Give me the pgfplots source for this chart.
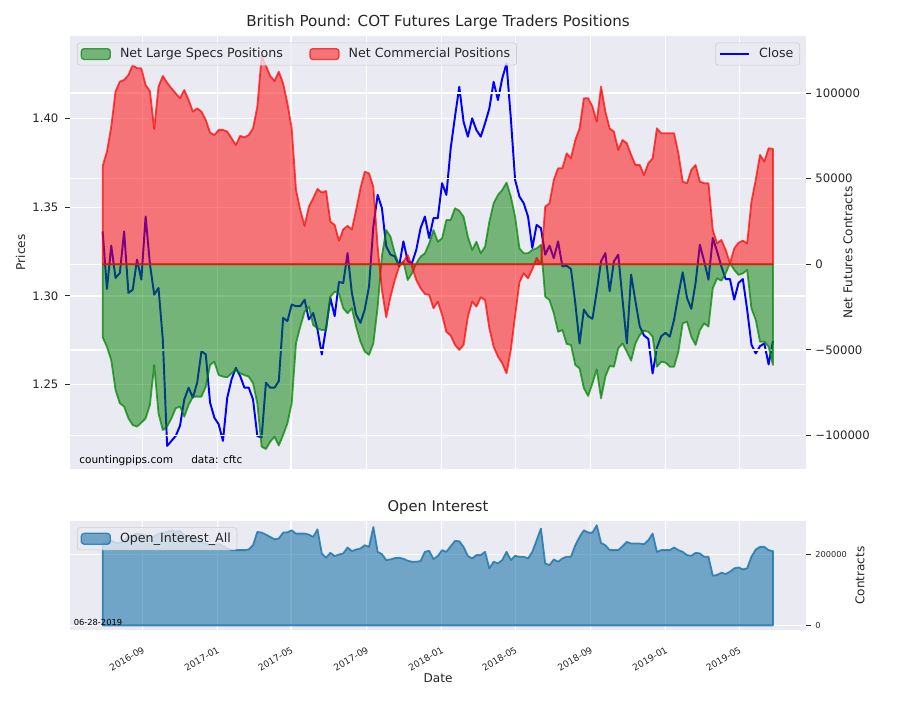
\documentclass[border=0pt]{standalone}
\usepackage{pgfplots}
\pgfplotsset{compat=1.18}
\usepackage{pgfplotstable}
\usepackage{fontspec}
\setmainfont{DejaVu Sans}
\definecolor{bg}{HTML}{EAEAF2}
\definecolor{txt}{HTML}{262626}
\definecolor{mgreen}{RGB}{0,128,0}
\definecolor{mred}{RGB}{255,0,0}
\definecolor{mblue}{RGB}{0,0,255}
\definecolor{oiblue}{RGB}{33,120,172}
\definecolor{legedge}{HTML}{CCCCCC}

\pgfplotstableread{
w close spec comm oi
0 1.3363 -42600 57400 229600
1 1.3039 -48200 65800 234000
2 1.3283 -56000 80400 239000
3 1.3101 -73400 100900 231600
4 1.3129 -81200 106700 231600
5 1.3363 -83100 107700 239000
6 1.3017 -90000 110600 248000
7 1.3035 -93900 116400 252900
8 1.3204 -94800 114500 257600
9 1.3092 -92500 114500 255700
10 1.3447 -90000 104700 252900
11 1.3180 -82200 101200 248000
12 1.3007 -58800 79000 250000
13 1.3045 -87100 103800 257600
14 1.2755 -96800 110000 259500
15 1.2155 -94800 106100 262200
16 1.2183 -90000 102800 267000
17 1.2211 -84100 99900 262200
18 1.2268 -83100 97000 265000
19 1.2417 -89000 101800 252900
20 1.2483 -82200 96000 248300
21 1.2427 -77300 89200 248300
22 1.2511 -77300 91100 240900
23 1.2689 -77300 89200 234000
24 1.2670 -71500 84300 229600
25 1.2399 -58800 76900 225000
26 1.2314 -56900 75500 225000
27 1.2277 -64700 78500 229600
28 1.2183 -65600 78500 222000
29 1.2427 -66000 77500 215800
30 1.2530 -63700 73600 211200
31 1.2595 -61700 69700 211200
32 1.2549 -63700 75000 211200
33 1.2483 -64700 74200 211200
34 1.2483 -65600 75500 213000
35 1.2417 -69500 79400 225000
36 1.2211 -81200 92100 262200
37 1.2202 -106500 121300 260400
38 1.2511 -107900 116000 254800
39 1.2483 -103600 110000 248300
40 1.2483 -100700 107000 241800
41 1.2520 -105900 112500 243700
42 1.2876 -99700 105700 260400
43 1.2858 -92900 94000 261300
44 1.2951 -81200 79400 266900
45 1.2942 -46200 43400 257600
46 1.2942 -36400 31700 257600
47 1.2979 -27700 22400 257600
48 1.2867 -24700 33700 254800
49 1.2904 -35500 38600 248300
50 1.2811 -37400 44000 269600
51 1.2670 -38400 41900 201900
52 1.2820 -38400 42800 189800
53 1.2989 -18900 24900 203800
54 1.2886 -16000 23000 194500
55 1.3078 -17000 13800 199100
56 1.3073 -25700 20400 201900
57 1.3241 -28600 22400 218600
58 1.3017 -25700 20400 208400
59 1.2895 -36400 31700 213000
60 1.2848 -45200 44400 215800
61 1.2923 -51000 54100 225000
62 1.3054 -52900 53100 220400
63 1.3391 -46200 45300 276200
64 1.3569 -25000 10300 206500
65 1.3494 5000 -15000 200000
66 1.3279 20000 -31000 183300
67 1.3232 16100 -18900 185100
68 1.3223 6400 -9200 188800
69 1.3167 -400 -1400 189800
70 1.3307 1500 1500 187000
71 1.3195 -9200 5400 181400
72 1.3185 -5300 -1400 178600
73 1.3260 600 -9200 178600
74 1.3382 4500 -14000 180500
75 1.3447 6400 -17300 206500
76 1.3326 12200 -17900 209300
77 1.3438 20000 -25700 186100
78 1.3438 13200 -21800 194500
79 1.3635 15200 -29500 211200
80 1.3569 25900 -39500 206500
81 1.3831 25900 -41500 222200
82 1.4009 32700 -47100 237000
83 1.4178 31300 -50000 236200
84 1.3981 27800 -47100 220400
85 1.3897 16100 -30600 194400
86 1.4000 8400 -21800 187900
87 1.3934 13200 -24700 197200
88 1.3897 6400 -19300 197200
89 1.3972 10300 -20900 206500
90 1.4056 24900 -37400 160000
91 1.4206 35600 -48100 178600
92 1.4103 40500 -53900 174000
93 1.4225 43400 -57800 183300
94 1.4309 47700 -63700 206500
95 1.4000 39500 -50000 183300
96 1.3653 27800 -30000 195400
97 1.3560 9300 -10500 192600
98 1.3522 6400 -5300 192600
99 1.3447 6400 -8200 187900
100 1.3270 8400 -3000 206500
101 1.3400 9300 3800 239000
102 1.3382 11300 0 271600
103 1.3232 -18900 33700 174000
104 1.3283 -20900 35600 169300
105 1.3213 -28600 49300 185100
106 1.3307 -39400 56100 178600
107 1.3166 -38400 56100 187900
108 1.3170 -46500 64800 192600
109 1.3151 -47100 61900 192600
110 1.2960 -58800 72600 225000
111 1.2732 -60800 79400 248300
112 1.2923 -72400 97000 266900
113 1.2886 -76900 97000 260400
114 1.2871 -69500 92100 260400
115 1.3026 -61400 83300 280900
116 1.3195 -78300 103800 231500
117 1.3241 -65600 89200 225000
118 1.3026 -59400 79400 211200
119 1.3195 -59800 77500 211200
120 1.3232 -49100 66800 211200
121 1.2979 -46200 72600 222200
122 1.2732 -51000 70700 234300
123 1.3120 -56300 63900 229600
124 1.2970 -46200 58000 229600
125 1.2829 -41300 58000 229600
126 1.2777 -38800 52200 227800
127 1.2758 -39400 59000 239000
128 1.2563 -42300 61900 257600
129 1.2708 -59800 79400 206500
130 1.2773 -56900 76500 211200
131 1.2792 -57400 76500 211200
132 1.2770 -59800 76500 211200
133 1.2867 -59800 76500 218600
134 1.3007 -51000 64800 211200
135 1.3133 -34500 48300 206500
136 1.2989 -33500 47300 197200
137 1.2927 -42300 55100 195300
138 1.3073 -47100 58000 203700
139 1.3288 -38400 48300 201900
140 1.3195 -34500 47300 192600
141 1.3092 -36400 47300 192600
142 1.3326 -14000 20100 139600
143 1.3251 -8200 12300 141400
144 1.3166 -9600 14200 147900
145 1.3095 -5300 8400 144200
146 1.3095 600 600 150700
147 1.2979 -3300 9300 160000
148 1.3073 -6200 12600 162700
149 1.3095 -5300 13800 157200
150 1.2923 -3300 12200 160000
151 1.2726 -25700 36600 192600
152 1.2676 -32500 49300 213000
153 1.2717 -45200 63900 220400
154 1.2732 -45200 60000 220400
155 1.2614 -48100 67800 211200
156 1.2745 -58800 67400 208400
}\datatable

\pgfplotsset{
  common/.style={
    scale only axis, width=529.92pt,
    xmin=-7.6, xmax=163.7,
    axis line style={draw=none},
    major grid style={white, line width=0.9pt},
    tick align=outside, major tick length=3.3pt,
    tick style={color=txt, line width=0.8pt},
    xtick style={draw=none},
    scaled y ticks=false,
    legend cell align=left,
    legend style={fill=bg, fill opacity=0.8, draw opacity=1, text opacity=1,
      draw=legedge, rounded corners=2pt, text=txt,
      font=\fontsize{9.1}{10.5}\selectfont,
      inner xsep=2.5pt, inner ysep=1.8pt,
      /tikz/every odd column/.append style={column sep=4.5pt}},
  },
}

\begin{document}
\begin{tikzpicture}[x=0.72pt,y=0.72pt]
\useasboundingbox (0,0) rectangle (900,700);

% ---------- price axis ----------
\begin{axis}[common,
  at={(50.4pt,166.32pt)}, anchor=south west, height=311.76pt,
  ymin=1.2025, ymax=1.4464,
  axis background/.style={fill=bg},
  grid=major,
  xtick={9.2857,26.714,43.857,61.429,78.857,96,113.571,131,148.143},
  xticklabels={},
  ytick={1.25,1.30,1.35,1.40},
  yticklabels={1.25,1.30,1.35,1.40},
  ytick pos=left,
  yticklabel style={font=\fontsize{8.4}{10}\selectfont, text=txt, xshift=-1.5pt},
  legend image code/.code={\draw[#1] (0pt,0pt) -- (20.9pt,0pt);},
  legend style={at={(1,1)}, anchor=north east, xshift=-4.3pt, yshift=-4.8pt},
]
\addplot[mblue, line width=1.4pt, line join=round] table[x=w,y=close]{\datatable};
\addlegendentry{Close}
\end{axis}

% ---------- positions axis ----------
\begin{axis}[common,
  at={(50.4pt,166.32pt)}, anchor=south west, height=311.76pt,
  ymin=-119570, ymax=133350,
  ymajorgrids,
  xtick=\empty,
  ytick={-100000,-50000,0,50000,100000},
  yticklabels={−100000,−50000,0,50000,100000},
  ytick pos=right, yticklabel pos=right,
  yticklabel style={font=\fontsize{8.4}{10}\selectfont, text=txt},
  legend columns=2,
  legend image code/.code={\draw[#1,line width=0.9pt] (0pt,-3.9pt) rectangle (20.9pt,3.9pt);},
  legend style={at={(0,1)}, anchor=north west, xshift=5pt, yshift=-4.8pt,
    /tikz/every even column/.append style={column sep=17pt}},
]
\addplot[fill=mgreen, fill opacity=0.5, draw=mgreen, draw opacity=0.7, line width=1.3pt, line join=round]
  table[x=w,y=spec]{\datatable} \closedcycle;
\addlegendentry{Net Large Specs Positions}
\addplot[fill=mred, fill opacity=0.5, draw=mred, draw opacity=0.7, line width=1.3pt, line join=round]
  table[x=w,y=comm]{\datatable} \closedcycle;
\addlegendentry{Net Commercial Positions}
\end{axis}

% ---------- open interest axis ----------
\begin{axis}[common,
  at={(50.4pt,50.4pt)}, anchor=south west, height=78.48pt,
  ymin=-13000, ymax=293000,
  axis background/.style={fill=bg},
  grid=major,
  xtick={9.2857,26.714,43.857,61.429,78.857,96,113.571,131,148.143},
  xticklabels={2016-09,2017-01,2017-05,2017-09,2018-01,2018-05,2018-09,2019-01,2019-05},
  xticklabel style={rotate=30, anchor=north east, inner sep=0pt, yshift=-6.8pt, xshift=-4.5pt,
    font=\fontsize{6.6}{8}\selectfont, text=txt},
  ytick={0,200000},
  yticklabels={0,200000},
  ytick pos=right, yticklabel pos=right,
  yticklabel style={font=\fontsize{5.9}{7}\selectfont, text=txt},
  legend image code/.code={\draw[#1,line width=0.9pt] (0pt,-3.9pt) rectangle (20.9pt,3.9pt);},
  legend style={at={(0,1)}, anchor=north west, xshift=5pt, yshift=-4.6pt},
]
\addplot[fill=oiblue, fill opacity=0.6, draw=oiblue, draw opacity=0.85, line width=1.3pt, line join=round]
  table[x=w,y=oi]{\datatable} \closedcycle;
\addlegendentry{Open\_Interest\_All}
\end{axis}

% ---------- texts ----------
\node[anchor=base, text=txt, font=\fontsize{10.9}{13}\selectfont] at (438,673.3) {British Pound: COT Futures Large Traders Positions};
\node[anchor=base, text=txt, font=\fontsize{10.6}{13}\selectfont] at (438,188.5) {Open Interest};
\node[rotate=90, text=txt, font=\fontsize{8.7}{10}\selectfont] at (20.5,447.5) {Prices};
\node[rotate=90, text=txt, font=\fontsize{8.7}{10}\selectfont] at (848,447.5) {Net Futures Contracts};
\node[rotate=90, text=txt, font=\fontsize{8.7}{10}\selectfont] at (860,124.5) {Contracts};
\node[anchor=base, text=txt, font=\fontsize{8.7}{10}\selectfont] at (438,17.5) {Date};
\node[anchor=base west, inner sep=0pt, text=black, font=\fontsize{7.6}{9}\selectfont] at (79,236.8) {countingpips.com};
\node[anchor=base west, inner sep=0pt, text=black, font=\fontsize{7.6}{9}\selectfont] at (191,236.8) {data: cftc};
\node[anchor=base west, inner sep=0pt, text=black, font=\fontsize{6}{7}\selectfont] at (73.5,75) {06-28-2019};
\end{tikzpicture}
\end{document}
